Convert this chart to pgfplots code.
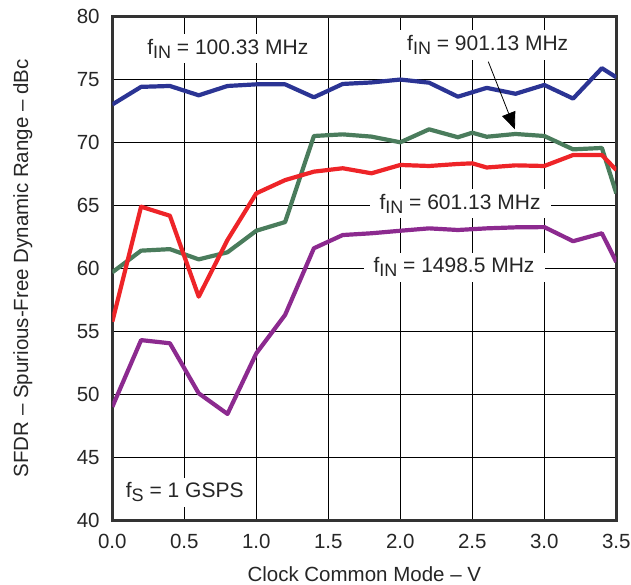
\documentclass[border=0pt]{standalone}
\usepackage{fontspec}
\setmainfont{Liberation Sans}
\usepackage{pgfplots}
\pgfplotsset{compat=1.18}
\usetikzlibrary{arrows.meta}
\definecolor{cblue}{HTML}{2B3494}
\definecolor{cgreen}{HTML}{4A7C5C}
\definecolor{cred}{HTML}{EE2428}
\definecolor{cpurple}{HTML}{8C2A8F}
\newcommand{\fsub}[1]{f\raisebox{-4bp}{\fontsize{18bp}{18bp}\selectfont #1}}
\begin{document}
\begin{tikzpicture}
\begin{axis}[
  at={(0,0)}, anchor=south west,
  scale only axis, width=504bp, height=504bp,
  xmin=0, xmax=3.5, ymin=40, ymax=80,
  xtick={0,0.5,1,1.5,2,2.5,3,3.5},
  xticklabels={0.0,0.5,1.0,1.5,2.0,2.5,3.0,3.5},
  ytick={40,45,50,55,60,65,70,75,80},
  /pgf/number format/assume math mode=true,
  grid=major,
  major grid style={black, line width=0.8bp},
  axis line style={draw=black!80, line width=2.5bp},
  tick style={draw=none},
  tick label style={font=\fontsize{20.5bp}{24bp}\selectfont, text=black!85},
  label style={font=\fontsize{20.5bp}{24bp}\selectfont, text=black!85},
  xticklabel style={anchor=base, yshift=-28bp},
  yticklabel style={anchor=east, inner sep=0pt, xshift=-12.5bp},
  xlabel={Clock Common Mode -- V},
  ylabel={SFDR -- Spurious-Free Dynamic Range -- dBc},
  xlabel style={at={(axis description cs:0.5,-0.1224)}, anchor=base},
  ylabel style={at={(axis description cs:-0.167,0.5)}, anchor=base, rotate=0},
  every axis plot/.append style={line width=4.2bp, line join=round, mark=none},
]
% f_IN = 100.33 MHz
\addplot[cblue] coordinates {
(0,73.0) (0.2,74.4) (0.4,74.47) (0.6,73.73) (0.8,74.47) (1.0,74.6) (1.2,74.6)
(1.4,73.57) (1.6,74.63) (1.8,74.75) (2.0,74.98) (2.2,74.73) (2.4,73.62)
(2.6,74.32) (2.8,73.85) (3.0,74.55) (3.2,73.47) (3.4,75.88) (3.5,75.16)};
% f_IN = 901.13 MHz
\addplot[cgreen] coordinates {
(0,59.68) (0.2,61.4) (0.4,61.52) (0.6,60.71) (0.8,61.27) (1.0,62.98) (1.2,63.67)
(1.4,70.5) (1.6,70.63) (1.8,70.45) (2.0,70.0) (2.2,71.03) (2.4,70.4) (2.5,70.76)
(2.6,70.44) (2.8,70.66) (3.0,70.5) (3.2,69.44) (3.4,69.55) (3.5,65.95)};
% f_IN = 601.13 MHz
\addplot[cred] coordinates {
(0,55.76) (0.2,64.89) (0.4,64.17) (0.6,57.75) (0.8,62.25) (1.0,65.95) (1.2,67.0)
(1.4,67.67) (1.6,67.94) (1.8,67.54) (2.0,68.2) (2.2,68.12) (2.4,68.28) (2.5,68.33)
(2.6,68.0) (2.8,68.17) (3.0,68.12) (3.2,68.99) (3.4,68.99) (3.5,67.8)};
% f_IN = 1498.5 MHz
\addplot[cpurple] coordinates {
(0,49.0) (0.2,54.3) (0.4,54.05) (0.6,50.08) (0.8,48.44) (1.0,53.25) (1.2,56.3)
(1.4,61.59) (1.6,62.64) (1.8,62.78) (2.0,62.98) (2.2,63.17) (2.4,63.04)
(2.6,63.17) (2.8,63.25) (3.0,63.27) (3.2,62.15) (3.4,62.78) (3.5,60.5)};

\tikzset{lab/.style={fill=white, inner xsep=10bp, inner ysep=5bp, anchor=base,
  font=\fontsize{21bp}{25bp}\selectfont, text=black!85}}
\node[lab] at (axis cs:0.802,76.98) {\fsub{IN} = 100.33 MHz};
\node[lab] at (axis cs:2.607,77.27) {\fsub{IN} = 901.13 MHz};
\node[lab] at (axis cs:2.415,64.68) {\fsub{IN} = 601.13 MHz};
\node[lab] at (axis cs:2.373,59.65) {\fsub{IN} = 1498.5 MHz};
\node[lab] at (axis cs:0.503,41.79) {\fsub{S} = 1 GSPS};
\draw[black, line width=0.8bp, -{Triangle[length=17bp,width=14bp]}]
  (axis cs:2.611,76.4) -- (axis cs:2.796,71.03);
\end{axis}
\pgfresetboundingbox
\path (-112.3bp,-64.7bp) rectangle (518.7bp,520.3bp);
\end{tikzpicture}
\end{document}
